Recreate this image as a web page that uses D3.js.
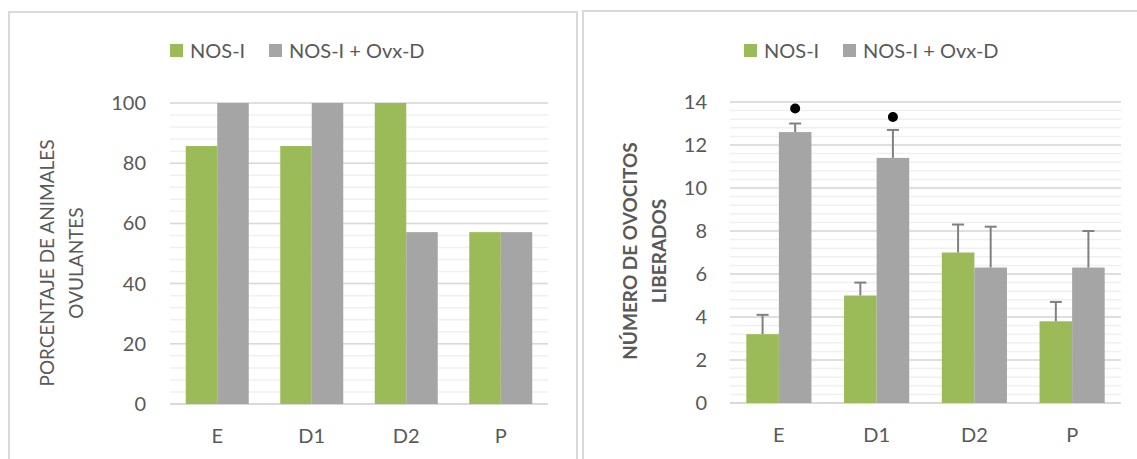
<!DOCTYPE html>
<html lang="es">
<head>
<meta charset="utf-8">
<title>Ovulación</title>
<script src="https://cdn.jsdelivr.net/npm/d3@7/dist/d3.min.js"></script>
<style>
  body { margin: 0; background: #fff; }
  svg text { font-family: Lato, "Open Sans", sans-serif; fill: #595959; }
  .tick line { display: none; }
  .domain { display: none; }
</style>
</head>
<body>
<script>
// data
var categories = ["E", "D1", "D2", "P"];
var seriesNames = ["NOS-I", "NOS-I + Ovx-D"];
var seriesColors = ["#9bbb59", "#a5a5a5"];

// left: porcentaje de animales ovulantes
var pctNOS = [85.7, 85.7, 100, 57.1];
var pctOvx = [100, 100, 57.1, 57.1];
var pctTicks = [0, 20, 40, 60, 80, 100];

// right: numero de ovocitos liberados (mean + error)
var ovoNOS = [3.2, 5.0, 7.0, 3.8];
var ovoOvx = [12.6, 11.4, 6.3, 6.3];
var errNOS = [0.9, 0.6, 1.3, 0.9];
var errOvx = [0.4, 1.3, 1.9, 1.7];
var dotOvx = [13.7, 13.3, null, null];
var ovoTicks = [0, 2, 4, 6, 8, 10, 12, 14];

var W = 1137, H = 459;
var svg = d3.select("body").append("svg").attr("width", W).attr("height", H);

// panel frames
svg.append("rect").attr("x", 9).attr("y", 12).attr("width", 568).attr("height", 470)
  .attr("fill", "none").attr("stroke", "#d9d9d9").attr("stroke-width", 2);
svg.append("rect").attr("x", 583).attr("y", 11).attr("width", 570).attr("height", 470)
  .attr("fill", "none").attr("stroke", "#d9d9d9").attr("stroke-width", 2);

function drawChart(cfg) {
  var g = svg.append("g");

  var x0 = d3.scaleBand().domain(categories).range([cfg.x0, cfg.x1])
    .paddingInner(1 / 3).paddingOuter(1 / 6);
  var x1 = d3.scaleBand().domain([0, 1]).range([0, x0.bandwidth()]);
  var y = d3.scaleLinear().domain([0, cfg.max]).range([cfg.y0, cfg.y1]);

  // minor grid
  g.append("g").selectAll("line")
    .data(d3.range(0, cfg.max + 1e-9, cfg.minor))
    .join("line")
    .attr("x1", cfg.x0).attr("x2", cfg.x1)
    .attr("y1", function (d) { return y(d); }).attr("y2", function (d) { return y(d); })
    .attr("stroke", "#f0f0f0").attr("stroke-width", 1.5);

  // major grid
  g.append("g").selectAll("line")
    .data(cfg.ticks)
    .join("line")
    .attr("x1", cfg.x0).attr("x2", cfg.x1)
    .attr("y1", function (d) { return y(d); }).attr("y2", function (d) { return y(d); })
    .attr("stroke", "#d9d9d9").attr("stroke-width", function (d) { return d === 0 ? 2 : 1.5; });

  // bars
  var rows = categories.map(function (c, i) {
    return { cat: c, vals: [cfg.a[i], cfg.b[i]], errs: cfg.ea ? [cfg.ea[i], cfg.eb[i]] : null, dot: cfg.dot ? cfg.dot[i] : null };
  });

  var grp = g.append("g").selectAll("g").data(rows).join("g")
    .attr("transform", function (d) { return "translate(" + x0(d.cat) + ",0)"; });

  grp.selectAll("rect")
    .data(function (d) { return d.vals.map(function (v, k) { return { k: k, v: v }; }); })
    .join("rect")
    .attr("x", function (d) { return x1(d.k); })
    .attr("width", x1.bandwidth())
    .attr("y", function (d) { return y(d.v); })
    .attr("height", function (d) { return y(0) - y(d.v); })
    .attr("fill", function (d) { return seriesColors[d.k]; });

  if (cfg.ea) {
    var eb = grp.selectAll("g.err")
      .data(function (d) { return d.vals.map(function (v, k) { return { k: k, v: v, e: d.errs[k] }; }); })
      .join("g").attr("class", "err");
    eb.append("line")
      .attr("x1", function (d) { return x1(d.k) + x1.bandwidth() / 2; })
      .attr("x2", function (d) { return x1(d.k) + x1.bandwidth() / 2; })
      .attr("y1", function (d) { return y(d.v); })
      .attr("y2", function (d) { return y(d.v + d.e); })
      .attr("stroke", "#808080").attr("stroke-width", 2);
    eb.append("line")
      .attr("x1", function (d) { return x1(d.k) + x1.bandwidth() / 2 - 6; })
      .attr("x2", function (d) { return x1(d.k) + x1.bandwidth() / 2 + 6; })
      .attr("y1", function (d) { return y(d.v + d.e); })
      .attr("y2", function (d) { return y(d.v + d.e); })
      .attr("stroke", "#808080").attr("stroke-width", 2);

    grp.filter(function (d) { return d.dot != null; })
      .append("circle")
      .attr("cx", x1(1) + x1.bandwidth() / 2)
      .attr("cy", function (d) { return y(d.dot); })
      .attr("r", 5).attr("fill", "#000");
  }

  // y axis labels
  g.append("g")
    .attr("transform", "translate(" + (cfg.x0 - cfg.tickGap) + ",0)")
    .call(d3.axisLeft(y).tickValues(cfg.ticks).tickSize(0).tickPadding(0))
    .call(function (a) { a.selectAll("text").style("font-size", "20px").attr("fill", "#595959").attr("font-family", null); });

  // x axis labels
  g.append("g")
    .attr("transform", "translate(0," + (cfg.y0 + 25) + ")")
    .call(d3.axisBottom(x0).tickSize(0).tickPadding(0))
    .call(function (a) { a.selectAll("text").style("font-size", "20px").attr("fill", "#595959").attr("font-family", null); });

  // y title
  var t = g.append("text")
    .attr("transform", "translate(" + cfg.titleX + "," + cfg.titleY + ") rotate(-90)")
    .attr("text-anchor", "middle")
    .style("font-size", "19px")
    .style("font-weight", cfg.bold ? "bold" : "normal");
  cfg.title.forEach(function (line, i) {
    t.append("tspan").attr("x", 0).attr("dy", i === 0 ? 0 : 29).text(line);
  });

  // legend
  var lg = g.append("g").attr("transform", "translate(" + cfg.legX + ",51)");
  var offs = [0, 99];
  seriesNames.forEach(function (s, k) {
    lg.append("rect").attr("x", offs[k]).attr("y", -7).attr("width", 13).attr("height", 13)
      .attr("fill", seriesColors[k]);
    lg.append("text").attr("x", offs[k] + 20).attr("y", 0).attr("dy", "0.35em")
      .style("font-size", "20px").text(s);
  });
}

drawChart({
  x0: 170, x1: 548, y0: 404, y1: 103, max: 100, minor: 4, ticks: pctTicks,
  a: pctNOS, b: pctOvx, tickGap: 24,
  title: ["PORCENTAJE DE ANIMALES", "OVULANTES"], titleX: 54, titleY: 263, bold: false,
  legX: 170
});

drawChart({
  x0: 730, x1: 1121, y0: 403, y1: 102, max: 14, minor: 0.4, ticks: ovoTicks,
  a: ovoNOS, b: ovoOvx, ea: errNOS, eb: errOvx, dot: dotOvx, tickGap: 23,
  title: ["NÚMERO DE OVOCITOS", "LIBERADOS"], titleX: 637, titleY: 251, bold: true,
  legX: 744
});
</script>
</body>
</html>
